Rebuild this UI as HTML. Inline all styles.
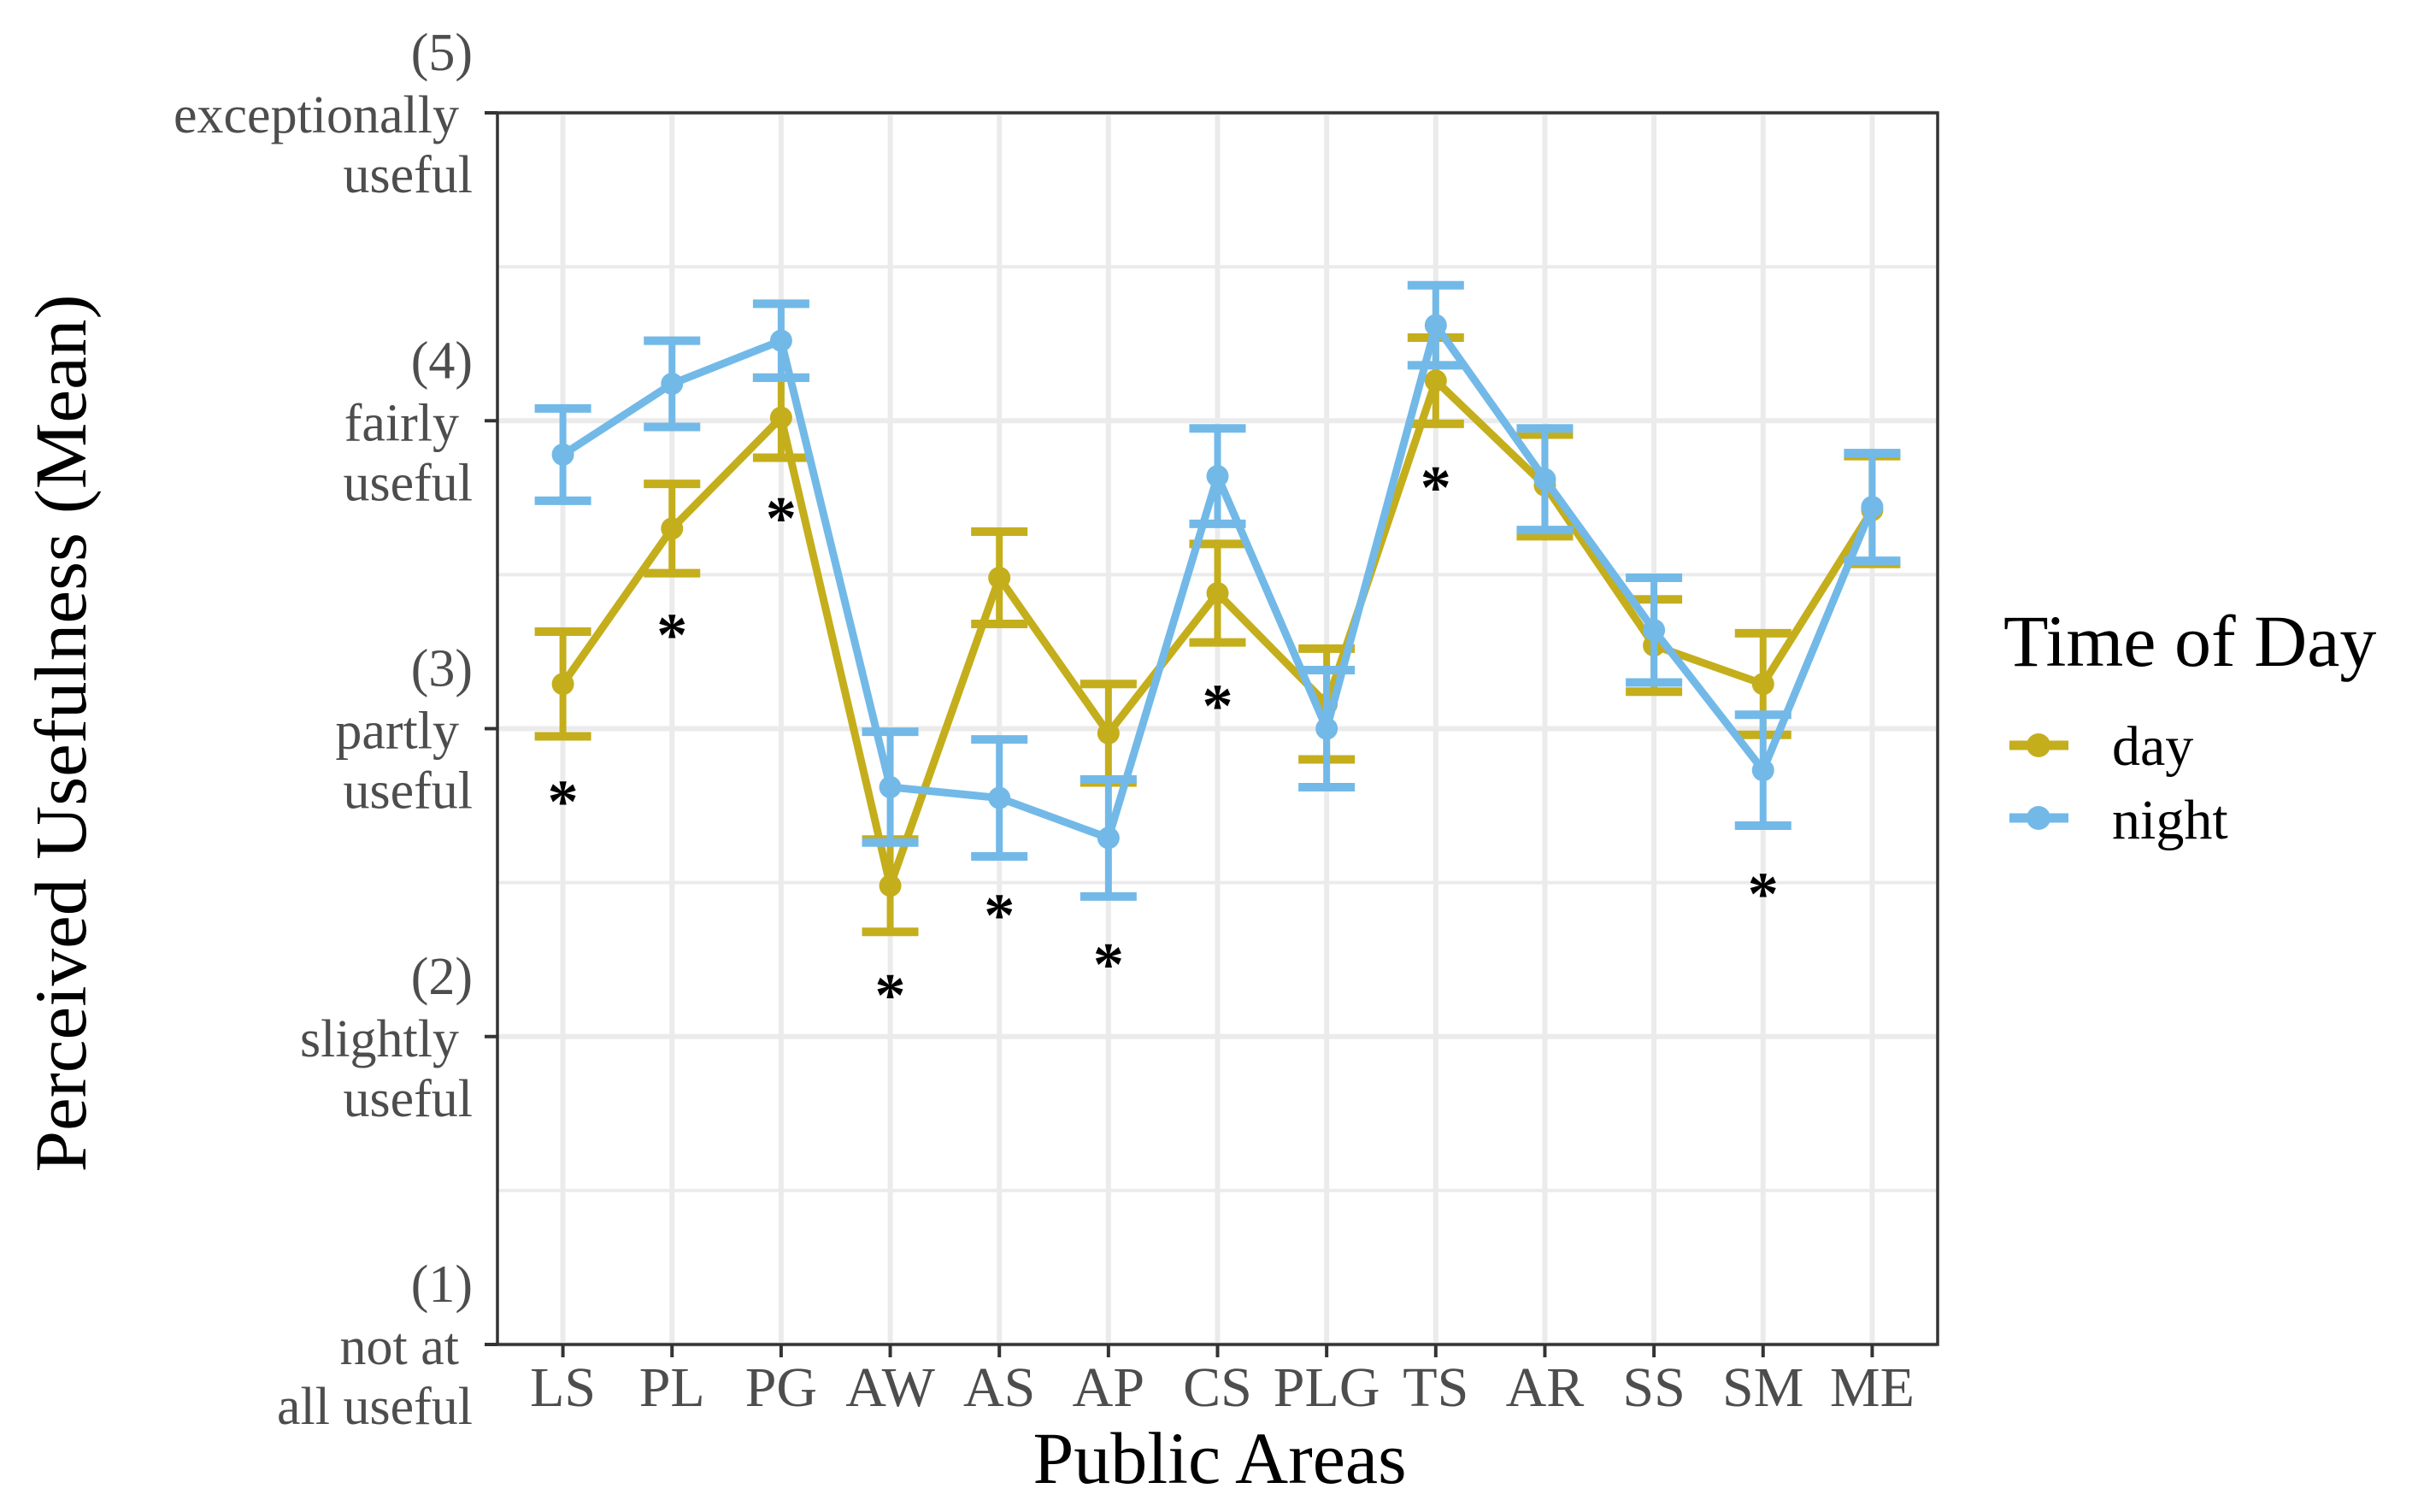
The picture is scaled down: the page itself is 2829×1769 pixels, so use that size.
<!DOCTYPE html>
<html><head><meta charset="utf-8"><style>
html,body{margin:0;padding:0;background:#fff;}
svg{display:block;}
text{font-family:"Liberation Serif",serif;}
</style></head><body>
<svg id="chart" width="2829" height="1769" viewBox="0 0 2829 1769" xmlns="http://www.w3.org/2000/svg">
<rect x="0" y="0" width="2829" height="1769" fill="#fff"/>
<g id="grid"></g>
<g id="series"></g>
<g id="stars"></g>
<rect x="582" y="132" width="1685" height="1441" fill="none" stroke="#333" stroke-width="3.5"/>
<g id="axes"></g>
<text x="1427" y="1735" font-size="86" text-anchor="middle" fill="#000">Public Areas</text>
<text transform="translate(100,858) rotate(-90)" font-size="86" text-anchor="middle" textLength="1027" lengthAdjust="spacingAndGlyphs" fill="#000">Perceived Usefulness (Mean)</text>
<g>
<text x="2344" y="779" font-size="86" fill="#000">Time of Day</text>
<g>
<line x1="2351" y1="872" x2="2420" y2="872" stroke="#c4ae1c" stroke-width="11"/>
<circle cx="2385" cy="872" r="14" fill="#c4ae1c"/>
<text x="2471" y="895" font-size="66" fill="#000">day</text>
</g>
<g>
<line x1="2351" y1="957" x2="2420" y2="957" stroke="#72b9e8" stroke-width="11"/>
<circle cx="2385" cy="957" r="14" fill="#72b9e8"/>
<text x="2471" y="981" font-size="66" fill="#000">night</text>
</g>
</g>
</svg>
<script>
const categories = ["LS","PL","PG","AW","AS","AP","CS","PLG","TS","AR","SS","SM","ME"];
const dayMean = [3.145,3.65,4.01,2.49,3.49,2.985,3.44,3.08,4.13,3.79,3.27,3.145,3.71];
const dayErr = [0.17,0.145,0.13,0.15,0.15,0.16,0.16,0.18,0.14,0.165,0.15,0.165,0.175];
const nightMean = [3.89,4.12,4.26,2.81,2.775,2.645,3.82,3.0,4.31,3.81,3.32,2.865,3.72];
const nightErr = [0.15,0.14,0.12,0.18,0.19,0.19,0.155,0.19,0.13,0.165,0.17,0.18,0.175];
const starCats = ["LS","PL","PG","AW","AS","AP","CS","TS","SM"];
const starVals = [2.78,3.32,3.70,2.15,2.41,2.25,3.09,3.80,2.48];
const yTickVals = [1,2,3,4,5];
const yTickLabels = [["(1)","not at","all useful"],["(2)","slightly","useful"],["(3)","partly","useful"],["(4)","fairly","useful"],["(5)","exceptionally","useful"]];

const NS="http://www.w3.org/2000/svg";
const L=582,R=2267,T=132,B=1573;
const step=(R-L)/(categories.length-1+1.2);
function xs(c){return L+step*0.6+step*categories.indexOf(c);}
function ys(v){return B-(v-1)*(B-T)/4;}
function mk(tag,attrs,parent){const e=document.createElementNS(NS,tag);for(const k in attrs)e.setAttribute(k,attrs[k]);parent.appendChild(e);return e;}

const grid=document.getElementById('grid');
for(let v=1.5;v<5;v+=1){const g=mk('line',{x1:L,x2:R,y1:ys(v),y2:ys(v),stroke:'#ebebeb','stroke-width':4},grid);

}
yTickVals.forEach(v=>{const g=mk('line',{x1:L,x2:R,y1:ys(v),y2:ys(v),stroke:'#ebebeb','stroke-width':6},grid);

});
categories.forEach(c=>{const g=mk('line',{x1:xs(c),x2:xs(c),y1:T,y2:B,stroke:'#ebebeb','stroke-width':6},grid);

});

const axes=document.getElementById('axes');
yTickVals.forEach((v,i)=>{
  const t=mk('line',{x1:L-15,x2:L,y1:ys(v),y2:ys(v),stroke:'#333','stroke-width':4},axes);
  
  
  const tx=mk('text',{x:553,'text-anchor':'end','font-size':62,fill:'#4d4d4d'},axes);
  
  
  const offs=[-50,23,93];
  yTickLabels[i].forEach((s,j)=>{const ts=mk('tspan',{x:j===1?537:553,y:ys(v)+offs[j]},tx);ts.textContent=s;});
});
categories.forEach(c=>{
  const t=mk('line',{x1:xs(c),x2:xs(c),y1:B,y2:B+15,stroke:'#333','stroke-width':4},axes);
  
  
  const tx=mk('text',{x:xs(c),y:1645,'text-anchor':'middle','font-size':66,fill:'#4d4d4d'},axes);
  
  
  tx.textContent=c;
});

const ser=document.getElementById('series');
function drawSeries(name,means,errs,color){
  const g=mk('g',{},ser);
  
  
  categories.forEach((c,i)=>{
    const x=xs(c),y1=ys(means[i]+errs[i]),y2=ys(means[i]-errs[i]);
    const eb=mk('g',{},g);
    
    
    mk('line',{x1:x,x2:x,y1:y1,y2:y2,stroke:color,'stroke-width':8},eb);
    mk('line',{x1:x-33,x2:x+33,y1:y1,y2:y1,stroke:color,'stroke-width':10},eb);
    mk('line',{x1:x-33,x2:x+33,y1:y2,y2:y2,stroke:color,'stroke-width':10},eb);
  });
  const pts=categories.map((c,i)=>xs(c)+','+ys(means[i])).join(' ');
  const pl=mk('polyline',{points:pts,fill:'none',stroke:color,'stroke-width':9,'stroke-linejoin':'round'},g);
  
  
  categories.forEach((c,i)=>{
    const p=mk('circle',{cx:xs(c),cy:ys(means[i]),r:13,fill:color},g);
    
    
  });
}
drawSeries('day',dayMean,dayErr,'#c4ae1c');
drawSeries('night',nightMean,nightErr,'#72b9e8');

const stars=document.getElementById('stars');
starCats.forEach((c,i)=>{
  const s=mk('text',{x:xs(c),y:ys(starVals[i])+30,'text-anchor':'middle','font-size':72,'font-weight':'bold',fill:'#000'},stars);
  
  
  s.textContent='*';
});
</script>
</body></html>
